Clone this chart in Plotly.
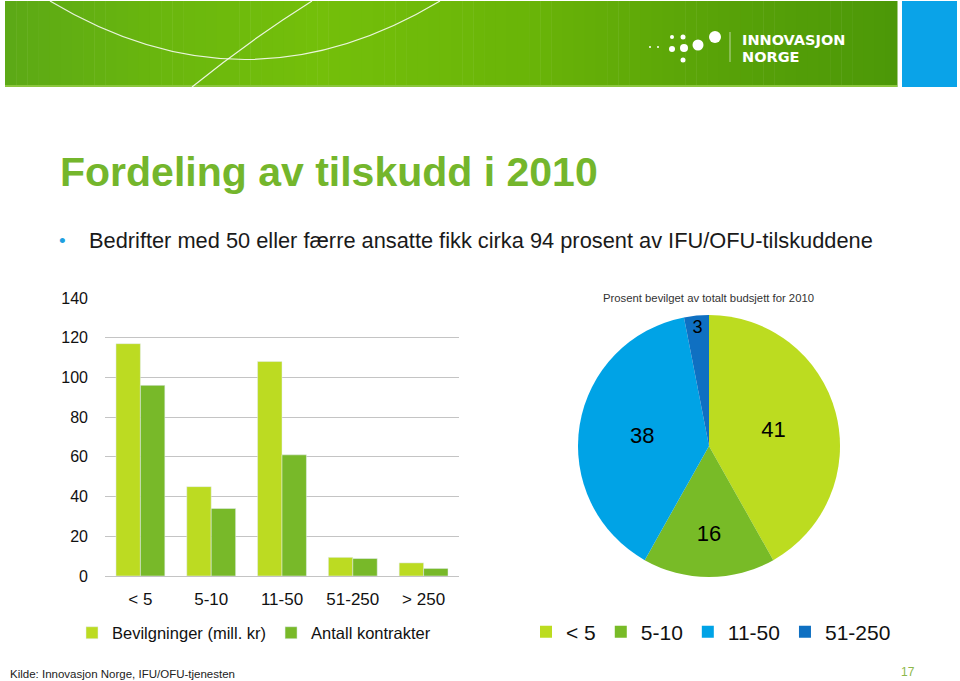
import plotly.graph_objects as go

W, H = 960, 681
def X(px): return px / W
def Y(py): return 1 - py / H

# ---- data ----
categories = ["< 5", "5-10", "11-50", "51-250", "> 250"]
bevilgninger = [117, 45, 108, 9.4, 6.6]
kontrakter = [96, 34, 61, 8.8, 3.8]
y_ticks = [0, 20, 40, 60, 80, 100, 120, 140]

pie_labels = ["< 5", "5-10", "11-50", "51-250"]
pie_values = [41, 16, 38, 3]

title = "Fordeling av tilskudd i 2010"
bullet = "Bedrifter med 50 eller færre ansatte fikk cirka 94 prosent av IFU/OFU-tilskuddene"
pie_title = "Prosent bevilget av totalt budsjett for 2010"
source = "Kilde: Innovasjon Norge, IFU/OFU-tjenesten"
page_no = "17"

FONT = "Liberation Sans, sans-serif"
LIGHT = "#bcdb22"
DARK = "#78b929"

fig = go.Figure()
fig.add_trace(go.Bar(x=categories, y=bevilgninger, name="Bevilgninger (mill. kr)",
                     marker_color=LIGHT, legend="legend"))
fig.add_trace(go.Bar(x=categories, y=kontrakter, name="Antall kontrakter",
                     marker_color=DARK, legend="legend"))
fig.add_trace(go.Pie(labels=pie_labels, values=pie_values, sort=False,
                     direction="clockwise", rotation=0,
                     marker=dict(colors=["#bcdc20", "#78bb27", "#00a3e6", "#0f70c2"]),
                     text=[str(v) for v in pie_values], textinfo="text",
                     textposition="inside", insidetextorientation="horizontal",
                     textfont=dict(size=22, color="black", family=FONT),
                     domain=dict(x=[X(578), X(840)], y=[Y(577), Y(315)]),
                     legend="legend2", hoverinfo="label+value"))

shapes = []
# banner gradient
stops = [(5, (0x5c, 0xa9, 0x16)), (150, (0x69, 0xb6, 0x0e)), (320, (0x74, 0xbf, 0x0a)),
         (520, (0x6a, 0xb5, 0x08)), (720, (0x58, 0xa2, 0x08)), (897, (0x4c, 0x98, 0x08))]
def col(x):
    for (x0, c0), (x1, c1) in zip(stops, stops[1:]):
        if x0 <= x <= x1:
            t = (x - x0) / (x1 - x0)
            return "rgb(%d,%d,%d)" % tuple(round(a + (b - a) * t) for a, b in zip(c0, c1))
    return "rgb(76,152,8)"
n = 80
for i in range(n):
    x0 = 5 + (897 - 5) * i / n
    x1 = 5 + (897 - 5) * (i + 1) / n
    shapes.append(dict(type="rect", xref="paper", yref="paper", x0=X(x0), x1=X(x1 + 0.5),
                       y0=Y(87), y1=Y(1), fillcolor=col((x0 + x1) / 2), line_width=0, layer="below"))
shapes.append(dict(type="rect", xref="paper", yref="paper", x0=X(5), x1=X(897), y0=Y(87), y1=Y(85),
                   fillcolor="#8cc63e", line_width=0, layer="below"))
shapes.append(dict(type="rect", xref="paper", yref="paper", x0=X(902), x1=X(957), y0=Y(87), y1=Y(1),
                   fillcolor="#0aa3e8", line_width=0, layer="below"))
# decorative curves
def P(x, y): return "%f %f" % (X(x), Y(y))
shapes.append(dict(type="path", xref="paper", yref="paper",
                   path="M %s Q %s %s" % (P(50, 1), P(245, 118), P(440, 1)),
                   line=dict(color="rgba(255,255,255,0.85)", width=1.2)))
shapes.append(dict(type="path", xref="paper", yref="paper",
                   path="M %s Q %s %s" % (P(192, 87), P(250, 40), P(312, 1)),
                   line=dict(color="rgba(255,255,255,0.85)", width=1.2)))
# logo dots
for cx, cy, r in [(650, 47, 1), (658, 47, 1), (672, 37, 2), (683, 37, 2.5), (672, 49, 3),
                  (684, 48, 4), (698, 45, 5.5), (715, 37, 6), (683, 60, 2.5)]:
    shapes.append(dict(type="circle", xref="paper", yref="paper", x0=X(cx - r), x1=X(cx + r),
                       y0=Y(cy + r), y1=Y(cy - r), fillcolor="white", line_width=0))
shapes.append(dict(type="line", xref="paper", yref="paper", x0=X(730), x1=X(730), y0=Y(62), y1=Y(32),
                   line=dict(color="rgba(255,255,255,0.6)", width=1)))

ann = [
    dict(text="INNOVASJON", x=X(740), y=Y(40), font=dict(size=14.5, color="white", family="DejaVu Sans, sans-serif", weight="bold"), xanchor="left"),
    dict(text="NORGE", x=X(740), y=Y(57), font=dict(size=14.5, color="white", family="DejaVu Sans, sans-serif", weight="bold"), xanchor="left"),
    dict(text="<b>" + title + "</b>", x=X(58), y=Y(172), font=dict(size=41, color="#74b62c", family=FONT), xanchor="left"),
    dict(text="•", x=X(62), y=Y(240), font=dict(size=19, color="#1ea0e0", family=FONT), xanchor="center"),
    dict(text=bullet, x=X(87), y=Y(241), font=dict(size=21.8, color="#1a1a1a", family=FONT), xanchor="left"),
    dict(text=pie_title, x=X(708), y=Y(298), font=dict(size=11.3, color="#333333", family=FONT), xanchor="center"),
    dict(text=source, x=X(8), y=Y(674), font=dict(size=11.5, color="#222222", family=FONT), xanchor="left"),
    dict(text=page_no, x=X(917), y=Y(672), font=dict(size=12, color="#8cb84a", family=FONT), xanchor="right"),
]
for a in ann:
    a.update(xref="paper", yref="paper", showarrow=False, yanchor="middle")

fig.update_layout(
    width=W, height=H, margin=dict(l=0, r=0, t=0, b=0, autoexpand=False),
    paper_bgcolor="white", plot_bgcolor="white",
    barmode="group", bargap=0.31, bargroupgap=0,
    font=dict(family=FONT, color="#222222"),
    xaxis=dict(domain=[X(105), X(459)], showgrid=False, showline=False, ticks="",
               tickfont=dict(size=17, color="#111111"), ticklabelstandoff=11),
    yaxis=dict(domain=[Y(576), Y(298)], range=[0, 140], tickvals=y_ticks,
               showgrid=True, gridcolor="#c4c4c4", gridwidth=1, zeroline=True,
               zerolinecolor="#c4c4c4", zerolinewidth=1, ticks="",
               tickfont=dict(size=16, color="#111111"), ticklabelstandoff=16),
    legend=dict(orientation="h", x=X(72), y=Y(633), xanchor="left", yanchor="middle",
                font=dict(size=16.5, color="#111111"), bgcolor="rgba(0,0,0,0)"),
    legend2=dict(orientation="h", x=X(526), y=Y(632), xanchor="left", yanchor="middle",
                 font=dict(size=21, color="#111111"), bgcolor="rgba(0,0,0,0)"),
    shapes=shapes, annotations=ann, showlegend=True,
)
fig.write_html("out.html")
